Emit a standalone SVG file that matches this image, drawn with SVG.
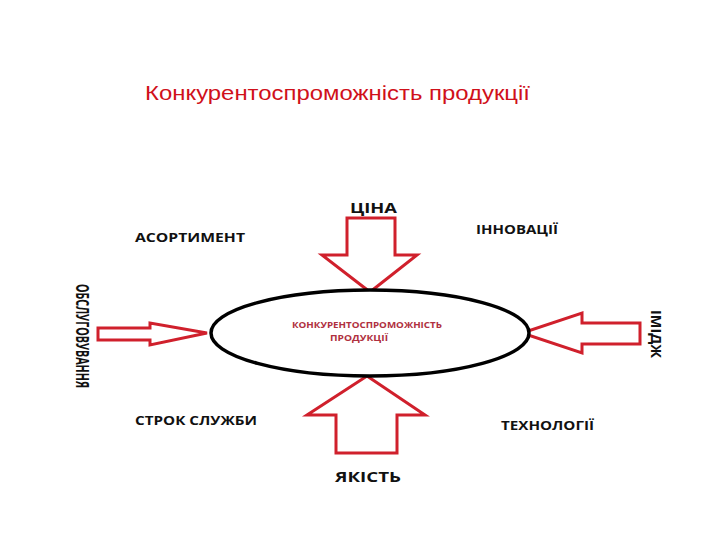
<svg xmlns="http://www.w3.org/2000/svg" width="720" height="540" viewBox="0 0 720 540">
<style>
.arrow{fill:#fff;stroke:#d0202c;stroke-width:3;stroke-linejoin:miter}
.lbl{font-family:"Open Sans","Liberation Sans",sans-serif;font-weight:bold;fill:#111;font-size:13px}
.in{font-family:"Open Sans","Liberation Sans",sans-serif;font-weight:bold;fill:#b03040;font-size:8px}
</style>
<rect width="720" height="540" fill="#fff"/>
<text x="145" y="100" font-family="Liberation Sans, Arial, sans-serif" font-size="20" fill="#d0101a" textLength="385" lengthAdjust="spacingAndGlyphs">Конкурентоспроможність продукції</text>
<g id="connectors">
<polygon class="arrow" points="347,218 395,218 395,255 417,255 370,292 322,255 347,255"/>
<polygon class="arrow" points="367,376 425,415 397,415 397,453 336,453 336,415 307,415"/>
<polygon class="arrow" points="98,328 150,328 150,323 207,333 150,345 150,340 98,340"/>
<polygon class="arrow" points="640,323 582,323 582,313 522,333 582,353 582,344 640,344"/>
</g>
<g id="center">
<ellipse cx="370" cy="333" rx="159" ry="43" fill="#fff" stroke="#000" stroke-width="3.5"/>
<text class="in" x="292" y="328" textLength="150" lengthAdjust="spacingAndGlyphs">КОНКУРЕНТОСПРОМОЖНІСТЬ</text>
<text class="in" x="330" y="341" textLength="58" lengthAdjust="spacingAndGlyphs">ПРОДУКЦІЇ</text>
</g>
<g id="price"><text class="lbl" x="350" y="213" style="font-size:15px" textLength="47" lengthAdjust="spacingAndGlyphs">ЦІНА</text></g>
<g id="assortment"><text class="lbl" x="135" y="242" textLength="110" lengthAdjust="spacingAndGlyphs">АСОРТИМЕНТ</text></g>
<g id="innovations"><text class="lbl" x="476" y="234" textLength="82" lengthAdjust="spacingAndGlyphs">ІННОВАЦІЇ</text></g>
<g id="service-life"><text class="lbl" x="135" y="425" textLength="122" lengthAdjust="spacingAndGlyphs">СТРОК СЛУЖБИ</text></g>
<g id="technologies"><text class="lbl" x="501" y="430" textLength="93" lengthAdjust="spacingAndGlyphs">ТЕХНОЛОГІЇ</text></g>
<g id="quality"><text class="lbl" x="335" y="482" style="font-size:15px" textLength="66" lengthAdjust="spacingAndGlyphs">ЯКІСТЬ</text></g>
<g id="service"><text class="lbl" transform="translate(76,284) rotate(90)" style="font-size:17px" textLength="104" lengthAdjust="spacingAndGlyphs">ОБСЛУГОВУВАННЯ</text></g>
<g id="image"><text class="lbl" transform="translate(651,310) rotate(90)" style="font-size:15px" textLength="48" lengthAdjust="spacingAndGlyphs">ІМІДЖ</text></g>
</svg>
